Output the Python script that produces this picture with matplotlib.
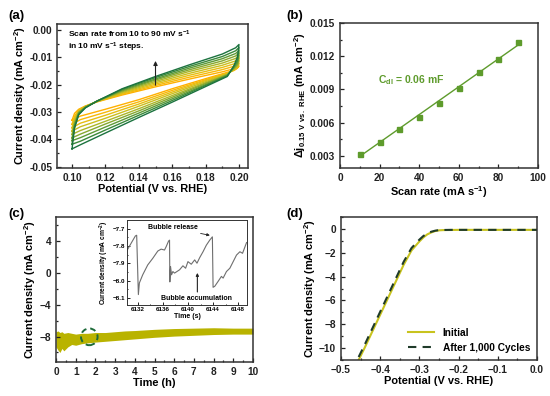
import matplotlib
matplotlib.use("Agg")
import matplotlib.pyplot as plt
import numpy as np
from matplotlib.patches import Ellipse
from matplotlib.ticker import MultipleLocator

plt.rcParams["font.family"] = ["Liberation Sans", "DejaVu Sans"]
plt.rcParams["font.weight"] = "bold"
plt.rcParams["axes.labelweight"] = "bold"
plt.rcParams["mathtext.fontset"] = "custom"
plt.rcParams["mathtext.rm"] = "Liberation Sans:bold"
plt.rcParams["mathtext.bf"] = "Liberation Sans:bold"
plt.rcParams["mathtext.default"] = "bf"
plt.rcParams["axes.linewidth"] = 1.1
plt.rcParams["axes.edgecolor"] = "#333333"

# ---- (a) CV loops, scan rates 10..90 mV/s ----
scan_rates = [10, 20, 30, 40, 50, 60, 70, 80, 90]
cv_colors = ["#FFB000", "#F7B90A", "#E6BE12", "#CBBE1E", "#ACB628", "#86A82F",
             "#5E9A36", "#3A893A", "#1C733F"]
cv_x_up = [0.100, 0.1015, 0.104, 0.108, 0.115, 0.130, 0.150, 0.170, 0.190, 0.198, 0.200]
cv_up = [
    [-0.0330, -0.0305, -0.0290, -0.0278, -0.0263, -0.0238, -0.0208, -0.0180, -0.0153, -0.0140, -0.0132],
    [-0.0345, -0.0315, -0.0293, -0.0279, -0.0262, -0.0235, -0.0203, -0.0173, -0.0145, -0.0131, -0.0122],
    [-0.0358, -0.0322, -0.0296, -0.0280, -0.0262, -0.0232, -0.0198, -0.0166, -0.0137, -0.0122, -0.0112],
    [-0.0370, -0.0330, -0.0298, -0.0281, -0.0261, -0.0229, -0.0193, -0.0159, -0.0129, -0.0113, -0.0102],
    [-0.0382, -0.0337, -0.0300, -0.0282, -0.0261, -0.0226, -0.0188, -0.0152, -0.0121, -0.0104, -0.0093],
    [-0.0395, -0.0343, -0.0302, -0.0282, -0.0260, -0.0223, -0.0183, -0.0146, -0.0113, -0.0095, -0.0084],
    [-0.0405, -0.0349, -0.0305, -0.0283, -0.0260, -0.0220, -0.0179, -0.0140, -0.0105, -0.0086, -0.0075],
    [-0.0418, -0.0355, -0.0308, -0.0284, -0.0260, -0.0217, -0.0174, -0.0134, -0.0097, -0.0076, -0.0064],
    [-0.0435, -0.0360, -0.0310, -0.0285, -0.0260, -0.0215, -0.0170, -0.0128, -0.0088, -0.0065, -0.0053],
]
cv_x_lo = [0.200, 0.1995, 0.199, 0.197, 0.193, 0.180, 0.160, 0.140, 0.120, 0.105, 0.100]
cv_lo = [
    [-0.0132, -0.0136, -0.0140, -0.0148, -0.0155, -0.0178, -0.0215, -0.0255, -0.0290, -0.0315, -0.0330],
    [-0.0122, -0.0134, -0.0139, -0.0147, -0.0157, -0.0182, -0.0221, -0.0263, -0.0301, -0.0328, -0.0345],
    [-0.0112, -0.0131, -0.0137, -0.0146, -0.0159, -0.0185, -0.0227, -0.0271, -0.0312, -0.0341, -0.0358],
    [-0.0102, -0.0127, -0.0134, -0.0144, -0.0161, -0.0189, -0.0233, -0.0279, -0.0323, -0.0354, -0.0370],
    [-0.0093, -0.0122, -0.0130, -0.0142, -0.0163, -0.0193, -0.0240, -0.0288, -0.0334, -0.0368, -0.0382],
    [-0.0084, -0.0115, -0.0126, -0.0140, -0.0164, -0.0196, -0.0246, -0.0296, -0.0344, -0.0381, -0.0395],
    [-0.0075, -0.0106, -0.0120, -0.0137, -0.0166, -0.0200, -0.0252, -0.0304, -0.0355, -0.0394, -0.0405],
    [-0.0064, -0.0095, -0.0112, -0.0133, -0.0168, -0.0203, -0.0258, -0.0312, -0.0366, -0.0407, -0.0418],
    [-0.0053, -0.0080, -0.0100, -0.0130, -0.0170, -0.0207, -0.0264, -0.0320, -0.0377, -0.0420, -0.0435],
]

# ---- (b) double-layer capacitance ----
cdl_rate = [10, 20, 30, 40, 50, 60, 70, 80, 90]
cdl_dj = [0.00318, 0.00429, 0.00540, 0.00654, 0.00780, 0.00910, 0.01057, 0.01174, 0.01324]

# ---- (c) chronoamperometry envelope ----
ca_t = [0.0, 0.1, 0.2, 0.3, 0.4, 0.6, 0.8, 1.0, 1.3, 1.6, 2.0, 2.5, 3.0, 3.5, 4.0,
        5.0, 6.0, 7.0, 8.0, 9.0, 10.0]
ca_hi = [-7.4, -7.3, -7.5, -7.4, -7.6, -7.5, -7.6, -7.7, -7.6, -7.6, -7.5, -7.5, -7.4, -7.3, -7.25,
         -7.1, -7.0, -6.95, -6.9, -6.95, -6.95]
ca_lo = [-9.3, -9.7, -10.0, -9.5, -9.8, -9.3, -9.0, -9.1, -8.9, -8.8, -8.7, -8.6, -8.5, -8.4, -8.3,
         -8.1, -7.95, -7.85, -7.75, -7.7, -7.7]

# inset: bubble release detail
bub_t = [6130.24, 6131.63, 6131.84, 6132.11, 6132.27, 6132.80, 6133.60, 6134.40, 6135.20, 6135.73,
         6136.27, 6136.53, 6136.91, 6137.07, 6137.12, 6137.23, 6137.39, 6137.60, 6137.87, 6138.67,
         6139.20, 6139.63, 6140.00, 6140.53, 6141.07, 6141.44, 6141.87, 6142.40, 6142.93, 6143.47,
         6143.89, 6144.00, 6144.27, 6144.80, 6145.33, 6145.60, 6146.13, 6146.67, 6147.20, 6147.73,
         6148.27, 6148.69, 6149.33]
bub_j = [-7.829, -7.742, -7.738, -8.080, -8.013, -7.966, -7.909, -7.871, -7.829, -7.818,
         -7.823, -7.804, -7.772, -7.766, -8.007, -7.918, -7.966, -7.947, -7.956, -7.937,
         -7.914, -7.928, -7.890, -7.905, -7.880, -7.899, -7.867, -7.833, -7.795, -7.766,
         -7.747, -8.038, -8.032, -8.004, -7.975, -7.985, -7.947, -7.928, -7.890, -7.852,
         -7.833, -7.842, -7.780]

# ---- (d) polarization curves ----
lsv_v = [-0.455, -0.44, -0.42, -0.40, -0.38, -0.36, -0.34, -0.32, -0.30, -0.29, -0.28,
         -0.27, -0.26, -0.25, -0.24, -0.22, -0.20, -0.10, 0.0]
lsv_initial = [-11.0, -10.0, -8.6, -7.2, -5.8, -4.4, -3.0, -1.8, -1.05, -0.72, -0.46,
               -0.30, -0.18, -0.12, -0.10, -0.09, -0.08, -0.08, -0.08]
lsv_after = [-10.75, -9.75, -8.35, -6.95, -5.55, -4.15, -2.75, -1.6, -0.9, -0.6, -0.38,
             -0.24, -0.15, -0.10, -0.09, -0.08, -0.08, -0.08, -0.08]

W, H = 550, 396
fig = plt.figure(figsize=(W / 100, H / 100), dpi=100)


def px_axes(x0, y0, x1, y1):
    return fig.add_axes([x0 / W, 1 - y1 / H, (x1 - x0) / W, (y1 - y0) / H])


def style(ax, fs=7.3):
    ax.tick_params(which="both", direction="in", top=False, right=False,
                   labelsize=fs, width=0.9, colors="#222222")
    ax.tick_params(which="major", length=3)
    ax.tick_params(which="minor", length=1.6)
    for t in ax.get_xticklabels() + ax.get_yticklabels():
        t.set_fontweight("bold")


lab_fs = 7.9

# (a)
ax = px_axes(57, 24, 248, 168)
for k in range(len(scan_rates)):
    xs = cv_x_up + cv_x_lo
    ys = cv_up[k] + cv_lo[k]
    ax.plot(xs, ys, color=cv_colors[k], lw=1.0)
ax.set_xlim(0.091, 0.2054)
ax.set_ylim(-0.0505, 0.0022)
ax.set_xticks([0.10, 0.12, 0.14, 0.16, 0.18, 0.20])
ax.set_yticks([0.00, -0.01, -0.02, -0.03, -0.04, -0.05])
ax.xaxis.set_minor_locator(MultipleLocator(0.01))
ax.yaxis.set_minor_locator(MultipleLocator(0.005))
ax.set_xticklabels(["0.10", "0.12", "0.14", "0.16", "0.18", "0.20"])
ax.set_yticklabels(["0.00", "-0.01", "-0.02", "-0.03", "-0.04", "-0.05"])
style(ax)
ax.annotate("", xy=(0.15, -0.0103), xytext=(0.15, -0.0212),
            arrowprops=dict(arrowstyle="-|>", color="#222222", lw=0.8, mutation_scale=6))
ax.text(0.0975, -0.0015, "Scan rate from 10 to 90 mV s$^{-1}$", fontsize=6, va="center")
ax.text(0.0975, -0.0063, "in 10 mV s$^{-1}$ steps.", fontsize=6, va="center")
ax.set_xlabel("Potential (V vs. RHE)", fontsize=lab_fs, labelpad=1)
ax.set_ylabel("Current density (mA cm$^{-2}$)", fontsize=lab_fs, labelpad=1)

# (b)
ax = px_axes(340, 23, 538, 168)
fit = np.polyfit(cdl_rate, cdl_dj, 1)
ax.plot(cdl_rate, np.polyval(fit, cdl_rate), color="#5E9B2C", lw=1.0)
ax.plot(cdl_rate, cdl_dj, "s", color="#5E9B2C", ms=3.6)
ax.set_xlim(0, 100)
ax.set_ylim(0.0019, 0.015)
ax.set_xticks([0, 20, 40, 60, 80, 100])
ax.set_yticks([0.003, 0.006, 0.009, 0.012, 0.015])
ax.xaxis.set_minor_locator(MultipleLocator(10))
ax.yaxis.set_minor_locator(MultipleLocator(0.0015))
style(ax)
ax.text(19, 0.00985, "C$_{dl}$ = 0.06 mF", color="#5E9B2C", fontsize=7.5, va="center")
ax.set_xlabel("Scan rate (mA s$^{-1}$)", fontsize=lab_fs, labelpad=1)
ax.set_ylabel("Δj$_{0.15\\ V\\ vs.\\ RHE}$ (mA cm$^{-2}$)", fontsize=lab_fs, labelpad=1)

# (c)
ax = px_axes(56, 217, 253, 362)
ax.fill_between(ca_t, ca_lo, ca_hi, color="#B9B300", lw=0)
ax.add_patch(Ellipse((1.69, -8.04), 0.84, 2.1, fill=False, ec="#1E6B3A",
                     ls=(0, (3, 2)), lw=1.4))
ax.set_xlim(0, 10)
ax.set_ylim(-11.2, 7)
ax.set_xticks(range(0, 11))
ax.set_yticks([4, 0, -4, -8])
ax.yaxis.set_minor_locator(MultipleLocator(2))
ax.xaxis.set_minor_locator(MultipleLocator(0.5))
style(ax)
ax.set_xlabel("Time (h)", fontsize=lab_fs, labelpad=1)
ax.set_ylabel("Current density (mA cm$^{-2}$)", fontsize=lab_fs, labelpad=1)

ins = px_axes(127, 220, 247, 305)
ins.plot(bub_t, bub_j, color="#6E6E6E", lw=0.8)
ins.set_xlim(6130.3, 6149.4)
ins.set_ylim(-8.14, -7.65)
ins.set_xticks([6132, 6136, 6140, 6144, 6148])
ins.set_yticks([-7.7, -7.8, -7.9, -8.0, -8.1])
ins.yaxis.set_minor_locator(MultipleLocator(0.05))
ins.xaxis.set_minor_locator(MultipleLocator(2))
for s in ins.spines.values():
    s.set_linewidth(0.7)
ins.tick_params(which="both", direction="in", labelsize=4.5, width=0.6, pad=1.5)
ins.tick_params(which="major", length=2)
ins.tick_params(which="minor", length=1)
for t in ins.get_xticklabels() + ins.get_yticklabels():
    t.set_fontweight("bold")
ins.set_xlabel("Time (s)", fontsize=5, labelpad=1)
ins.set_ylabel("Current density (mA cm$^{-2}$)", fontsize=4.8, labelpad=1)
ins.annotate("Bubble release", xy=(6143.7, -7.74), xytext=(6137.6, -7.695),
             fontsize=5, ha="center", va="center",
             arrowprops=dict(arrowstyle="-|>", color="#222222", lw=0.6, mutation_scale=4,
                             shrinkA=14, shrinkB=1))
ins.annotate("", xy=(6141.5, -7.955), xytext=(6141.5, -8.065),
             arrowprops=dict(arrowstyle="-|>", color="#222222", lw=0.8, mutation_scale=4,
                             shrinkA=0, shrinkB=0))
ins.text(6141.3, -8.1, "Bubble accumulation", fontsize=5, ha="center", va="center")

# (d)
ax = px_axes(341, 217, 537, 360)
ax.plot(lsv_v, lsv_initial, color="#C8C31E", lw=1.5, label="Initial")
ax.plot(lsv_v, lsv_after, color="#1F3B2A", lw=1.5, ls=(0, (4, 3)), label="After 1,000 Cycles")
ax.set_xlim(-0.5, 0.0)
ax.set_ylim(-11, 1)
ax.set_xticks([-0.5, -0.4, -0.3, -0.2, -0.1, 0.0])
ax.set_yticks([0, -2, -4, -6, -8, -10])
ax.xaxis.set_minor_locator(MultipleLocator(0.05))
ax.yaxis.set_minor_locator(MultipleLocator(1))
style(ax)
ax.legend(loc="lower right", frameon=False, fontsize=7.3, handlelength=2.6,
          borderaxespad=0.3, labelspacing=0.5)
ax.set_xlabel("Potential (V vs. RHE)", fontsize=lab_fs, labelpad=1)
ax.set_ylabel("Current density (mA cm$^{-2}$)", fontsize=lab_fs, labelpad=1)

for lab, (x, y) in {"(a)": (8, 16), "(b)": (286, 16), "(c)": (8, 214), "(d)": (286, 214)}.items():
    fig.text(x / W, 1 - y / H, lab, fontsize=9.5, va="center", ha="left")

fig.savefig("out.png", dpi=100)
